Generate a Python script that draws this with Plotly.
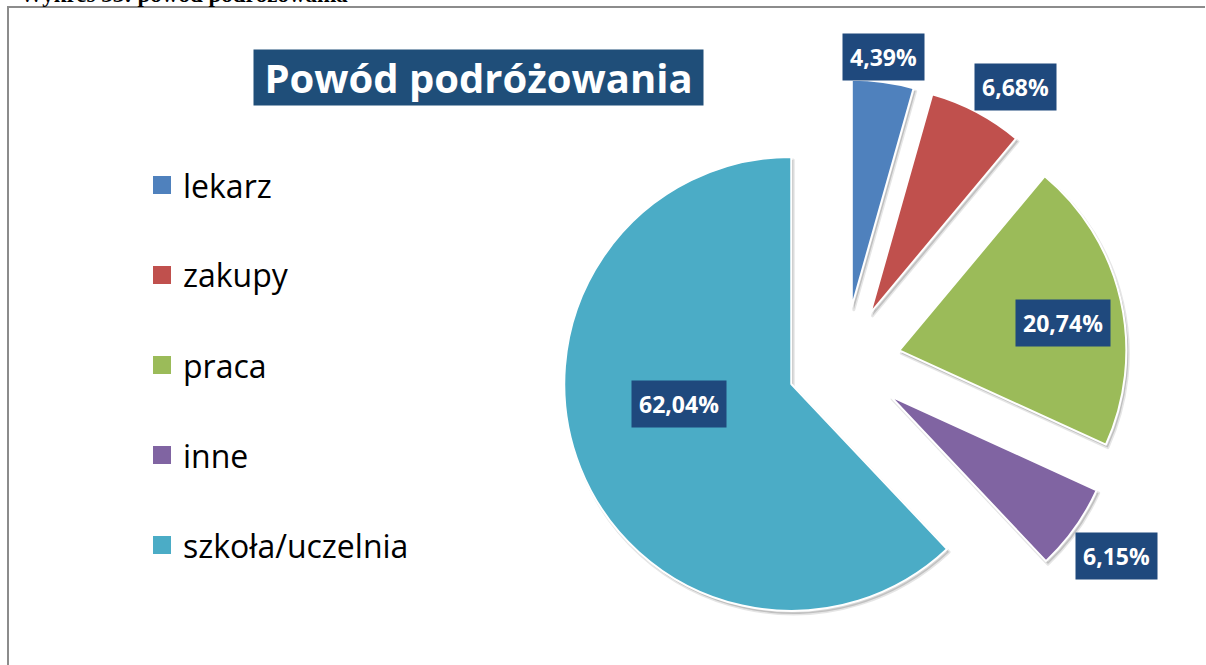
import math
import plotly.graph_objects as go

# Survey: reasons for travelling (share of answers, %)
categories = ["lekarz", "zakupy", "praca", "inne", "szkoła/uczelnia"]
shares = [4.39, 6.68, 20.74, 6.15, 62.04]
colors = ["#4F81BD", "#C0504D", "#9BBB59", "#8064A2", "#4BACC6"]

W, H = 1206, 665

# pie geometry in pixels (centre, radius, explosion)
CX, CY, R, PULL = 844, 363, 227, 0.25
D = 2 * R * (1 + PULL)


def dom(dx=0, dy=0):
    return dict(
        x=[(CX + dx - D / 2) / W, (CX + dx + D / 2) / W],
        y=[1 - (CY + dy + D / 2) / H, 1 - (CY + dy - D / 2) / H],
    )


fig = go.Figure()

# soft drop shadow under the exploded slices
fig.add_trace(go.Pie(
    labels=categories, values=shares, sort=False, direction="clockwise",
    rotation=0, pull=[PULL] * len(shares), domain=dom(2, 3),
    marker=dict(colors=["rgba(0,0,0,0.16)"] * len(shares),
                line=dict(color="rgba(0,0,0,0.10)", width=3)),
    textinfo="none", hoverinfo="skip", showlegend=False,
))

fig.add_trace(go.Pie(
    labels=categories, values=shares, sort=False, direction="clockwise",
    rotation=0, pull=[PULL] * len(shares), domain=dom(),
    marker=dict(colors=colors, line=dict(color="white", width=2)),
    textinfo="none", showlegend=False,
))

# data labels: radial distance (in radii) and small angular nudge per slice
label_dist = [1.36, 1.43, 0.98, 1.47, 0.75]
label_nudge = [-0.5, 4.0, 2.4, -0.2, 7.7]

total = sum(shares)
acc = 0.0
annotations = []
for v, dist, nudge in zip(shares, label_dist, label_nudge):
    mid = (acc + v / 2) / total * 360.0 + nudge
    acc += v
    a = math.radians(mid)
    px = CX + dist * R * math.sin(a)
    py = CY - dist * R * math.cos(a)
    annotations.append(dict(
        x=px / W, y=1 - py / H, xref="paper", yref="paper",
        xanchor="center", yanchor="middle",
        text=f"{v:.2f}%".replace(".", ","), showarrow=False,
        font=dict(family="Open Sans", size=23, color="white", weight="bold"),
        bgcolor="#1F497D", borderpad=7,
    ))

# chart title in a filled box
annotations.append(dict(
    x=478 / W, y=1 - 77 / H, xref="paper", yref="paper",
    xanchor="center", yanchor="middle",
    text="\u00a0Powód podróżowania\u00a0", showarrow=False,
    font=dict(family="Open Sans", size=40, color="white", weight="bold"),
    bgcolor="#1F4E79", borderpad=0,
))

# document caption above the chart frame (mostly outside the page top)
annotations.append(dict(
    x=18 / W, y=1 - 9 / H, xref="paper", yref="paper",
    xanchor="left", yanchor="bottom",
    text="Wykres 33: powód podróżowania", showarrow=False,
    font=dict(family="Liberation Serif", size=23, color="black", weight="bold"),
))

# legend, one row per category
shapes = []
for i, (name, col) in enumerate(zip(categories, colors)):
    yc = 185 + i * 90
    shapes.append(dict(
        type="rect", xref="paper", yref="paper",
        x0=153 / W, x1=171 / W, y0=1 - (yc + 9) / H, y1=1 - (yc - 9) / H,
        fillcolor=col, line=dict(width=0),
    ))
    annotations.append(dict(
        x=181 / W, y=1 - yc / H, xref="paper", yref="paper",
        xanchor="left", yanchor="middle", text=name, showarrow=False,
        font=dict(family="Open Sans", size=32, color="black"),
    ))

# chart frame
shapes.append(dict(
    type="path", xref="paper", yref="paper",
    path=f"M {8 / W} 0 L {8 / W} {1 - 7 / H} L {1205 / W} {1 - 7 / H}",
    line=dict(color="#8C8C8C", width=2),
))

fig.update_layout(
    width=W, height=H,
    margin=dict(l=0, r=0, t=0, b=0),
    paper_bgcolor="white", plot_bgcolor="white",
    annotations=annotations, shapes=shapes,
    showlegend=False,
)

fig.write_html("out.html")
